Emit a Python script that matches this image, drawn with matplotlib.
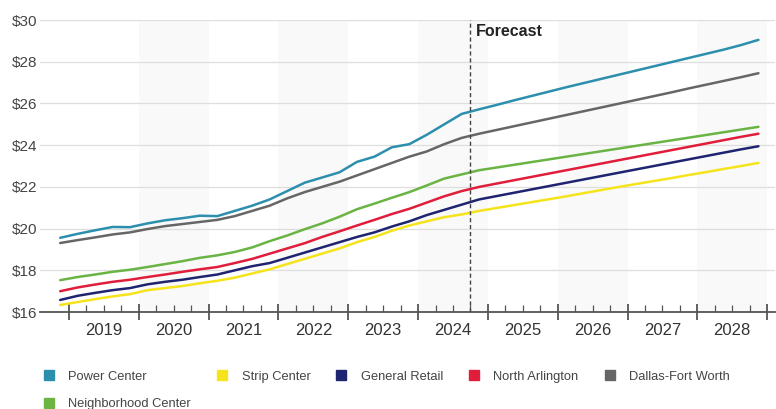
import numpy as np
import matplotlib
matplotlib.use('Agg')
import matplotlib.pyplot as plt
from matplotlib.lines import Line2D

plt.rcParams['font.family'] = ['Liberation Sans', 'DejaVu Sans']

# quarterly points, 2018 Q4 .. 2028 Q4 (plotted at quarter mid)
quarters = 2018.875 + 0.25 * np.arange(41)

power_center = [19.56, 19.75, 19.92, 20.08, 20.07, 20.25, 20.40, 20.50, 20.62, 20.60,
                20.85, 21.10, 21.40, 21.80, 22.20, 22.45, 22.70, 23.20, 23.45, 23.90,
                24.05, 24.50, 25.00, 25.50,
                25.72, 25.93, 26.15, 26.36, 26.57, 26.78, 26.98, 27.18, 27.38, 27.58,
                27.78, 27.98, 28.18, 28.38, 28.58, 28.80, 29.05]
dallas_fw = [19.31, 19.45, 19.58, 19.72, 19.82, 19.98, 20.12, 20.22, 20.32, 20.42,
             20.60, 20.85, 21.10, 21.45, 21.75, 22.00, 22.25, 22.55, 22.85, 23.15,
             23.45, 23.70, 24.05, 24.35,
             24.55, 24.73, 24.91, 25.09, 25.27, 25.45, 25.63, 25.81, 25.99, 26.17,
             26.35, 26.53, 26.72, 26.90, 27.08, 27.26, 27.45]
neighborhood = [17.53, 17.68, 17.80, 17.93, 18.03, 18.16, 18.30, 18.44, 18.60, 18.72,
                18.88, 19.10, 19.40, 19.67, 19.97, 20.25, 20.57, 20.93, 21.20, 21.48,
                21.75, 22.07, 22.40, 22.60,
                22.80, 22.93, 23.06, 23.19, 23.32, 23.45, 23.58, 23.71, 23.84, 23.97,
                24.10, 24.23, 24.36, 24.49, 24.62, 24.75, 24.88]
north_arlington = [17.00, 17.18, 17.32, 17.45, 17.55, 17.68, 17.80, 17.93, 18.05, 18.16,
                   18.35, 18.55, 18.80, 19.05, 19.30, 19.60, 19.87, 20.15, 20.42, 20.70,
                   20.95, 21.25, 21.55, 21.80,
                   22.00, 22.16, 22.32, 22.48, 22.64, 22.80, 22.96, 23.12, 23.28, 23.44,
                   23.60, 23.76, 23.92, 24.08, 24.24, 24.40, 24.55]
general_retail = [16.58, 16.78, 16.92, 17.05, 17.15, 17.33, 17.45, 17.55, 17.68, 17.80,
                  18.00, 18.20, 18.35, 18.60, 18.85, 19.10, 19.35, 19.60, 19.82, 20.10,
                  20.35, 20.65, 20.90, 21.15,
                  21.40, 21.56, 21.72, 21.88, 22.04, 22.20, 22.36, 22.52, 22.68, 22.84,
                  23.00, 23.16, 23.32, 23.48, 23.64, 23.80, 23.95]
strip_center = [16.34, 16.48, 16.62, 16.75, 16.86, 17.05, 17.15, 17.25, 17.38, 17.50,
                17.65, 17.85, 18.05, 18.30, 18.55, 18.80, 19.05, 19.35, 19.60, 19.90,
                20.15, 20.35, 20.55, 20.68,
                20.85, 20.99, 21.13, 21.27, 21.41, 21.55, 21.70, 21.85, 22.00, 22.14,
                22.28, 22.42, 22.57, 22.71, 22.86, 23.00, 23.15]

years = list(range(2019, 2029))
yticks = [16, 18, 20, 22, 24, 26, 28, 30]
forecast_start = 2024.75

series = [
    ('Power Center', power_center, '#2c8fad'),
    ('Neighborhood Center', neighborhood, '#6ab444'),
    ('Strip Center', strip_center, '#f5e41c'),
    ('General Retail', general_retail, '#1f2470'),
    ('North Arlington', north_arlington, '#e01e3c'),
    ('Dallas-Fort Worth', dallas_fw, '#666666'),
]
draw_order = [2, 3, 4, 1, 5, 0]

fig = plt.figure(figsize=(7.76, 4.09), dpi=100)
ax = fig.add_axes([0.0515, 0.237, 0.947, 0.714])

# very faint alternating year bands
for i, y in enumerate(years):
    if i % 2 == 1:
        ax.axvspan(y, y + 1, color='#f9f9f9', zorder=0, lw=0)

for y in yticks[1:]:
    ax.axhline(y, color='#dedede', lw=0.9, zorder=1)

for k in draw_order:
    name, vals, col = series[k]
    ax.plot(quarters, vals, color=col, lw=1.8, zorder=3, solid_capstyle='round')

ax.axvline(forecast_start, color='#444444', lw=1.0, ls=(0, (3, 2)), zorder=4)
ax.text(forecast_start + 0.08, 29.8, 'Forecast', fontsize=11.5, fontweight='bold',
        color='#222222', va='top', ha='left')

ax.set_xlim(2018.585, 2029.11)
ax.set_ylim(16, 30)

ax.set_yticks(yticks)
ax.set_yticklabels(['$%d' % v for v in yticks], fontsize=11, color='#444444')
ax.tick_params(axis='y', length=0, pad=2)

ax.set_xticks([y for y in years] + [years[-1] + 1])
ax.set_xticklabels([])
minor = [y + q for y in years for q in (0.25, 0.5, 0.75)]
ax.set_xticks(minor, minor=True)
ax.set_xticklabels([str(int(m)) if (m % 1) == 0.5 else '' for m in minor],
                   minor=True, fontsize=12, color='#333333')
ax.tick_params(axis='x', which='major', direction='inout', length=11, width=1.3,
               color='#555555')
ax.tick_params(axis='x', which='minor', direction='in', length=5, width=0.9,
               color='#555555', pad=8)

for s in ['left', 'right', 'top']:
    ax.spines[s].set_visible(False)
ax.spines['bottom'].set_color('#555555')
ax.spines['bottom'].set_linewidth(1.3)

handles = [Line2D([], [], marker='s', ls='none', markersize=7, color=c)
           for _, _, c in series]
labels = [n for n, _, _ in series]
fig.legend(handles, labels, ncol=5, loc='upper left', bbox_to_anchor=(0.04, 0.122),
           frameon=False, fontsize=9.3, labelcolor='#444444', handletextpad=1.0,
           columnspacing=1.9, handlelength=1.0, labelspacing=1.2)

fig.savefig('out.png', dpi=100, facecolor='white')
